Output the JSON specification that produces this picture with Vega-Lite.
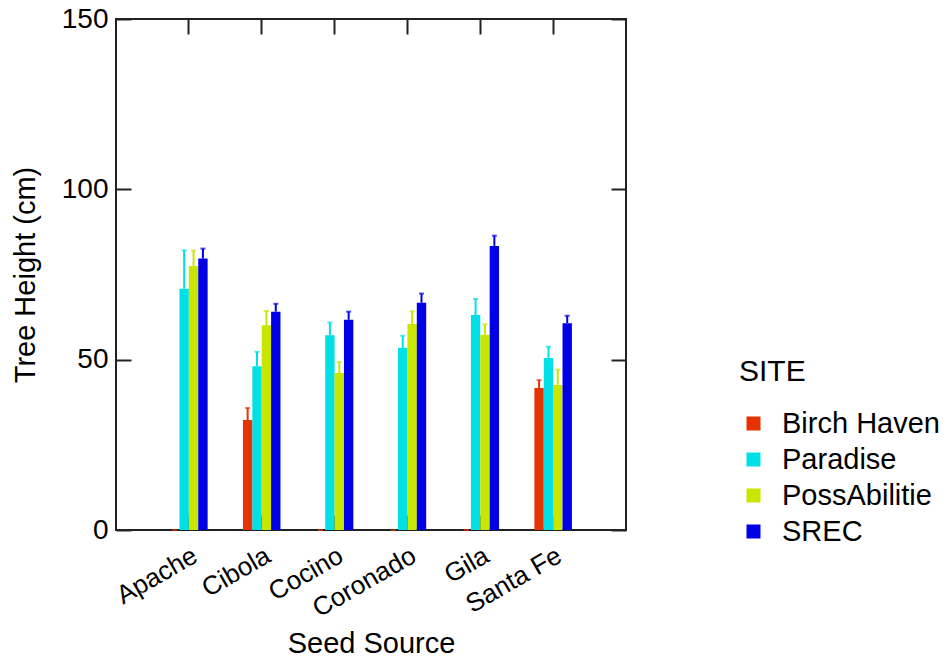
{
  "$schema": "https://vega.github.io/schema/vega-lite/v6.json",
  "width": 510,
  "height": 511,
  "autosize": "none",
  "padding": {"left": 116, "top": 19, "right": 321, "bottom": 131},
  "background": "white",
  "config": {
    "font": "Liberation Sans",
    "view": {"stroke": "#222", "strokeWidth": 2},
    "axis": {"grid": false, "domain": false, "tickColor": "#222", "tickWidth": 2, "labelColor": "black", "titleColor": "black", "labelFont": "Liberation Sans", "titleFont": "Liberation Sans", "titleFontWeight": "normal"},
    "legend": {"labelFont": "Liberation Sans", "titleFont": "Liberation Sans"}
  },
  "data": {
    "values": [
      {"source": "Apache", "site": "Birch Haven", "height": 0, "upper": 0},
      {"source": "Apache", "site": "Paradise", "height": 70.8, "upper": 82.1},
      {"source": "Apache", "site": "PossAbilitie", "height": 77.5, "upper": 82.0},
      {"source": "Apache", "site": "SREC", "height": 79.7, "upper": 82.6},
      {"source": "Cibola", "site": "Birch Haven", "height": 32.3, "upper": 35.8},
      {"source": "Cibola", "site": "Paradise", "height": 48.1, "upper": 52.3},
      {"source": "Cibola", "site": "PossAbilitie", "height": 60.1, "upper": 64.3},
      {"source": "Cibola", "site": "SREC", "height": 64.1, "upper": 66.4},
      {"source": "Cocino", "site": "Birch Haven", "height": 0, "upper": 0},
      {"source": "Cocino", "site": "Paradise", "height": 57.2, "upper": 60.9},
      {"source": "Cocino", "site": "PossAbilitie", "height": 46.1, "upper": 49.3},
      {"source": "Cocino", "site": "SREC", "height": 61.7, "upper": 64.1},
      {"source": "Coronado", "site": "Birch Haven", "height": 0, "upper": 0},
      {"source": "Coronado", "site": "Paradise", "height": 53.5, "upper": 57.0},
      {"source": "Coronado", "site": "PossAbilitie", "height": 60.5, "upper": 64.2},
      {"source": "Coronado", "site": "SREC", "height": 66.7, "upper": 69.4},
      {"source": "Gila", "site": "Birch Haven", "height": 0, "upper": 0},
      {"source": "Gila", "site": "Paradise", "height": 63.1, "upper": 67.8},
      {"source": "Gila", "site": "PossAbilitie", "height": 57.3, "upper": 60.4},
      {"source": "Gila", "site": "SREC", "height": 83.4, "upper": 86.4},
      {"source": "Santa Fe", "site": "Birch Haven", "height": 41.7, "upper": 44.0},
      {"source": "Santa Fe", "site": "Paradise", "height": 50.5, "upper": 53.8},
      {"source": "Santa Fe", "site": "PossAbilitie", "height": 42.6, "upper": 47.1},
      {"source": "Santa Fe", "site": "SREC", "height": 60.7, "upper": 62.9}
    ]
  },
  "encoding": {
    "x": {
      "field": "source", "type": "nominal", "sort": null,
      "scale": {"paddingInner": 0.485, "paddingOuter": 0.7425}
    },
    "xOffset": {"field": "site", "type": "nominal", "sort": null},
    "color": {
      "field": "site", "type": "nominal", "sort": null,
      "scale": {"domain": ["Birch Haven", "Paradise", "PossAbilitie", "SREC"], "range": ["#e63200", "#00e0e6", "#c8e600", "#0000e6"]},
      "legend": {
        "title": "SITE", "orient": "none", "legendX": 623, "legendY": 338,
        "titleFontSize": 30, "titleFontWeight": "normal", "titlePadding": 22, "titleBaseline": "top",
        "labelFontSize": 29, "labelOffset": 14, "rowPadding": 6,
        "symbolType": "square", "symbolSize": 196, "symbolStrokeWidth": 0, "symbolOpacity": 1
      }
    }
  },
  "layer": [
    {
      "mark": {"type": "bar", "opacity": 1},
      "encoding": {
        "x": {"field": "source", "type": "nominal", "sort": null,
          "axis": {"orient": "bottom", "title": "Seed Source", "titleFontSize": 29, "titlePadding": 8, "labelFontSize": 26, "labelAngle": -30, "labelAlign": "right", "labelBaseline": "top", "labelPadding": 27, "tickSize": -15, "ticks": true}},
        "y": {"field": "height", "type": "quantitative",
          "scale": {"domain": [0, 150], "nice": false},
          "axis": {"orient": "left", "title": "Tree Height (cm)", "titleFontSize": 29, "titlePadding": 21, "labelFontSize": 28, "values": [0, 50, 100, 150], "tickSize": -15, "labelPadding": 23}}
      }
    },
    {
      "mark": {"type": "rule", "strokeWidth": 2},
      "encoding": {
        "x": {"field": "source", "type": "nominal", "sort": null, "axis": null},
        "y": {"field": "height", "type": "quantitative", "axis": null},
        "y2": {"field": "upper"}
      }
    },
    {
      "mark": {"type": "tick", "thickness": 2, "size": 5},
      "encoding": {
        "x": {"field": "source", "type": "nominal", "sort": null, "axis": null},
        "y": {"field": "upper", "type": "quantitative", "axis": null}
      }
    },
    {
      "mark": {"type": "point", "opacity": 0},
      "encoding": {
        "x": {"field": "source", "type": "nominal", "sort": null,
          "axis": {"orient": "top", "title": null, "labels": false, "tickSize": -15}},
        "y": {"field": "height", "type": "quantitative",
          "axis": {"orient": "right", "title": null, "labels": false, "values": [0, 50, 100, 150], "tickSize": -15}},
        "color": {"value": "transparent"}
      }
    }
  ],
  "resolve": {"axis": {"x": "independent", "y": "independent"}}
}
